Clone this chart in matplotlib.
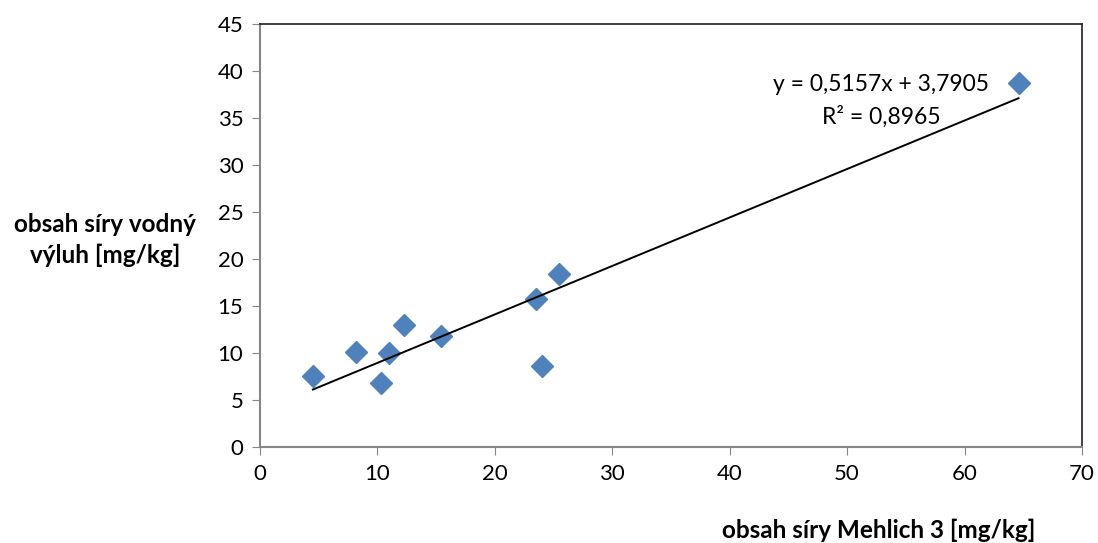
import numpy as np
import matplotlib.pyplot as plt

# data
mehlich = [4.5, 8.2, 10.3, 11.0, 12.3, 15.4, 23.5, 24.0, 25.5, 64.6]
vodny = [7.55, 10.1, 6.8, 10.0, 13.0, 11.8, 15.7, 8.6, 18.4, 38.7]
slope, intercept = 0.5157, 3.7905
r2_label = "R² = 0,8965"
eq_label = "y = 0,5157x + 3,7905"

plt.rcParams['font.family'] = ['Lato', 'DejaVu Sans']

fig = plt.figure(figsize=(10.98, 5.43), dpi=100)
ax = fig.add_axes([0.2368, 0.1768, 0.7486, 0.779])

ax.plot(mehlich, vodny, linestyle='none', marker='D', markersize=11,
        color='#4F81BD', markeredgecolor='#4F81BD')

xt = np.array([min(mehlich), max(mehlich)])
ax.plot(xt, slope * xt + intercept, color='black', linewidth=1.4)

ax.set_xlim(0, 70)
ax.set_ylim(0, 45)
ax.set_xticks(range(0, 71, 10))
ax.set_yticks(range(0, 46, 5))
ax.tick_params(labelsize=16, direction='out', length=6, color='#868686', pad=6)

for s in ['left', 'bottom']:
    ax.spines[s].set_color('#868686')
    ax.spines[s].set_linewidth(1.5)
for s in ['top', 'right']:
    ax.spines[s].set_color('#202020')
    ax.spines[s].set_linewidth(1.2)

ax.text(52.9, 38.6, eq_label, fontsize=16.5, ha='center', va='center')
ax.text(52.9, 35.1, r2_label, fontsize=16.5, ha='center', va='center')

fig.text(105 / 1098, 1 - 240 / 543, "obsah síry vodný\nvýluh [mg/kg]", fontsize=17.5,
         fontweight='bold', ha='center', va='center', linespacing=1.35)
fig.text(879 / 1098, 1 - 530 / 543, "obsah síry Mehlich 3 [mg/kg]", fontsize=17.5,
         fontweight='bold', ha='center', va='center')

fig.savefig("out.png", dpi=100)
